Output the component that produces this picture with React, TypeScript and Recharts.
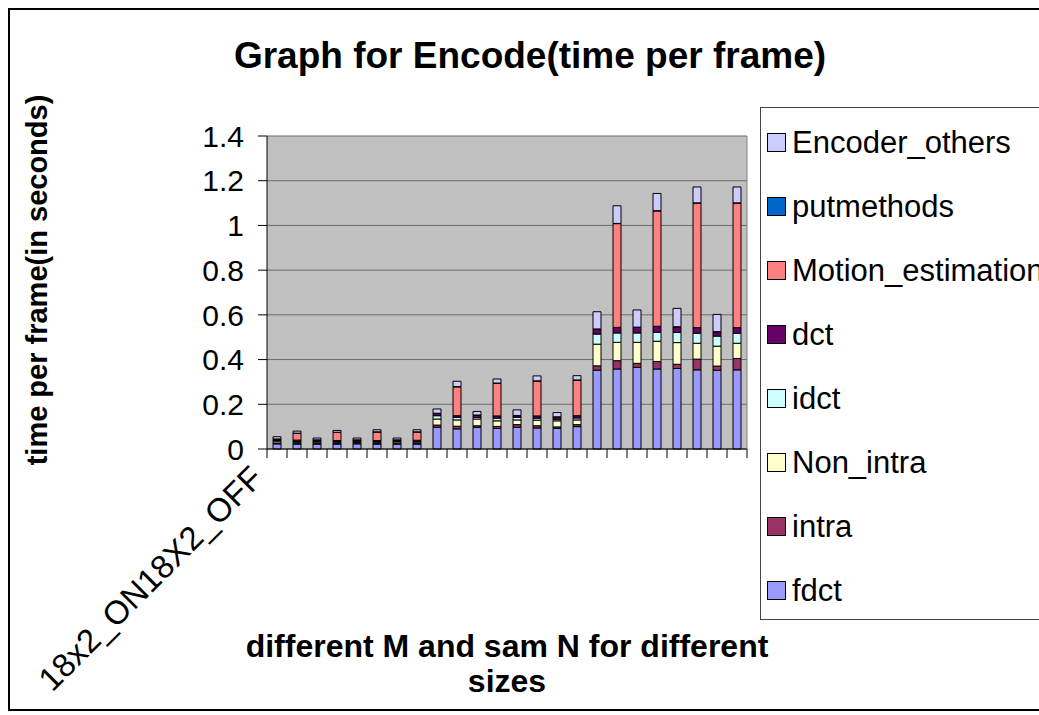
import { BarChart, Bar, XAxis, YAxis, CartesianGrid } from "recharts";

// encoder timing per frame (seconds), three size groups of 8 runs each
const categories = [
  "18x2_ON18X2_OFF", "", "", "", "", "", "", "",
  "", "", "", "", "", "", "", "",
  "", "", "", "", "", "", "", "",
];

const fdct = [
  0.023, 0.022, 0.022, 0.022, 0.023, 0.022, 0.022, 0.022,
  0.097, 0.09, 0.097, 0.092, 0.097, 0.094, 0.092, 0.1,
  0.353, 0.358, 0.365, 0.358, 0.36, 0.354, 0.352, 0.354,
];
const intra = [
  0.004, 0.003, 0.003, 0.003, 0.003, 0.003, 0.004, 0.003,
  0.01, 0.012, 0.007, 0.009, 0.012, 0.01, 0.007, 0.009,
  0.019, 0.037, 0.018, 0.033, 0.019, 0.048, 0.019, 0.051,
];
const nonIntra = [
  0.008, 0.005, 0.006, 0.005, 0.004, 0.005, 0.006, 0.006,
  0.027, 0.028, 0.03, 0.025, 0.021, 0.025, 0.027, 0.021,
  0.097, 0.082, 0.094, 0.091, 0.097, 0.071, 0.089, 0.068,
];
const idct = [
  0.003, 0.004, 0.003, 0.003, 0.002, 0.003, 0.003, 0.003,
  0.015, 0.012, 0.007, 0.012, 0.012, 0.009, 0.007, 0.009,
  0.045, 0.042, 0.042, 0.04, 0.045, 0.045, 0.045, 0.045,
];
const dct = [
  0.006, 0.006, 0.006, 0.005, 0.008, 0.005, 0.005, 0.005,
  0.01, 0.007, 0.01, 0.01, 0.007, 0.01, 0.01, 0.01,
  0.022, 0.025, 0.025, 0.027, 0.025, 0.025, 0.019, 0.025,
];
const motionEstimation = [
  0, 0.03, 0, 0.036, 0, 0.038, 0, 0.037,
  0, 0.129, 0, 0.146, 0, 0.156, 0, 0.159,
  0, 0.464, 0, 0.516, 0, 0.557, 0, 0.557,
];
const putmethods = [
  0.001, 0.001, 0.001, 0.001, 0.001, 0.001, 0.001, 0.001,
  0.001, 0.001, 0.001, 0.001, 0.001, 0.001, 0.001, 0.001,
  0.001, 0.001, 0.001, 0.001, 0.001, 0.001, 0.001, 0.001,
];
const encoderOthers = [
  0.01, 0.009, 0.008, 0.008, 0.008, 0.009, 0.008, 0.009,
  0.019, 0.024, 0.016, 0.018, 0.025, 0.022, 0.019, 0.019,
  0.077, 0.079, 0.077, 0.077, 0.082, 0.071, 0.077, 0.071,
];

const yTicks = [0, 0.2, 0.4, 0.6, 0.8, 1, 1.2, 1.4];

// stacking order, bottom first
const series = [
  { key: "fdct", values: fdct, color: "#9999FF" },
  { key: "intra", values: intra, color: "#993366" },
  { key: "Non_intra", values: nonIntra, color: "#FFFFCC" },
  { key: "idct", values: idct, color: "#CCFFFF" },
  { key: "dct", values: dct, color: "#660066" },
  { key: "Motion_estimation", values: motionEstimation, color: "#FF8080" },
  { key: "putmethods", values: putmethods, color: "#0066CC" },
  { key: "Encoder_others", values: encoderOthers, color: "#CCCCFF" },
];

const data = categories.map((name, i) => {
  const row: Record<string, string | number> = { name };
  series.forEach((s) => (row[s.key] = s.values[i]));
  return row;
});

const FONT = "Arial, 'Liberation Sans', sans-serif";
const CHART_W = 1090;
const CHART_H = 699;
const PLOT_LEFT = 257;
const PLOT_RIGHT = 737;
const PLOT_TOP = 126;
const PLOT_BOTTOM = 439;
const Y_AXIS_W = 100;
const X_AXIS_H = 60;
const BAND = (PLOT_RIGHT - PLOT_LEFT) / categories.length;
const TICK_LEN = 9;

function CategoryTick(props: any) {
  const { x, payload } = props;
  const i = props.index ?? payload?.index ?? 0;
  const lx = x - 12;
  const ly = PLOT_BOTTOM + 31;
  return (
    <g>
      {i === 0 && (
        <line x1={x - BAND / 2} x2={x - BAND / 2} y1={PLOT_BOTTOM} y2={PLOT_BOTTOM + TICK_LEN} stroke="#000" />
      )}
      <line x1={x + BAND / 2} x2={x + BAND / 2} y1={PLOT_BOTTOM} y2={PLOT_BOTTOM + TICK_LEN} stroke="#000" />
      {payload?.value ? (
        <text
          x={lx}
          y={ly}
          transform={`rotate(-45, ${lx}, ${ly})`}
          textAnchor="end"
          fontSize={33}
          fontFamily={FONT}
          fill="#000"
        >
          {payload.value}
        </text>
      ) : null}
    </g>
  );
}

export default function App() {
  return (
    <div
      style={{
        position: "fixed",
        left: 8,
        top: 8,
        width: 1031,
        height: 703,
        overflow: "hidden",
      }}
    >
      <div
        style={{
          position: "relative",
          width: 1100,
          height: 703,
          boxSizing: "border-box",
          border: "2px solid #000",
          borderRight: "none",
          background: "#fff",
          fontFamily: FONT,
        }}
      >
        <BarChart
          width={CHART_W}
          height={CHART_H}
          data={data}
          barSize={8}
          margin={{
            top: PLOT_TOP,
            left: PLOT_LEFT - Y_AXIS_W,
            right: CHART_W - PLOT_RIGHT - 1,
            bottom: CHART_H - PLOT_BOTTOM - X_AXIS_H,
          }}
        >
          <CartesianGrid vertical={false} fill="#C0C0C0" stroke="#6a6a6a" />
          <XAxis
            dataKey="name"
            interval={0}
            height={X_AXIS_H}
            axisLine={{ stroke: "#000" }}
            tickLine={false}
            tick={CategoryTick}
          />
          <YAxis
            domain={[0, 1.4]}
            ticks={yTicks}
            width={Y_AXIS_W}
            tickSize={TICK_LEN}
            tickMargin={14}
            axisLine={{ stroke: "#000" }}
            tickLine={{ stroke: "#000" }}
            tick={{ fontSize: 30, fill: "#000", fontFamily: FONT }}
          />
          <YAxis
            yAxisId="frame"
            orientation="right"
            width={1}
            tick={false}
            tickLine={false}
            axisLine={{ stroke: "#808080" }}
          />
          {series.map((s) => (
            <Bar
              key={s.key}
              dataKey={s.key}
              stackId="t"
              fill={s.color}
              stroke="#000"
              strokeWidth={1}
              isAnimationActive={false}
            />
          ))}
        </BarChart>

        <svg
          width={CHART_W}
          height={CHART_H}
          style={{ position: "absolute", left: 0, top: 0, pointerEvents: "none" }}
          fontFamily={FONT}
        >
          <text x={520} y={58} textAnchor="middle" fontSize={37} fontWeight="bold">
            Graph for Encode(time per frame)
          </text>
          <text
            x={37}
            y={270}
            transform="rotate(-90, 37, 270)"
            textAnchor="middle"
            fontSize={29}
            fontWeight="bold"
          >
            time per frame(in seconds)
          </text>
          <text x={497} y={647} textAnchor="middle" fontSize={32} fontWeight="bold">
            different M and sam N for different
          </text>
          <text x={497} y={682} textAnchor="middle" fontSize={32} fontWeight="bold">
            sizes
          </text>
        </svg>

        <div
          style={{
            position: "absolute",
            left: 750,
            top: 97,
            width: 340,
            height: 513,
            boxSizing: "border-box",
            border: "1px solid #444",
            paddingTop: 2,
          }}
        >
          {[...series].reverse().map((s) => (
            <div key={s.key} style={{ height: 64, display: "flex", alignItems: "center" }}>
              <span
                style={{
                  width: 17,
                  height: 17,
                  marginLeft: 6,
                  marginRight: 6,
                  background: s.color,
                  border: "1px solid #000",
                  flex: "none",
                }}
              />
              <span style={{ fontSize: 31, whiteSpace: "nowrap", lineHeight: 1 }}>{s.key}</span>
            </div>
          ))}
        </div>
      </div>
    </div>
  );
}
